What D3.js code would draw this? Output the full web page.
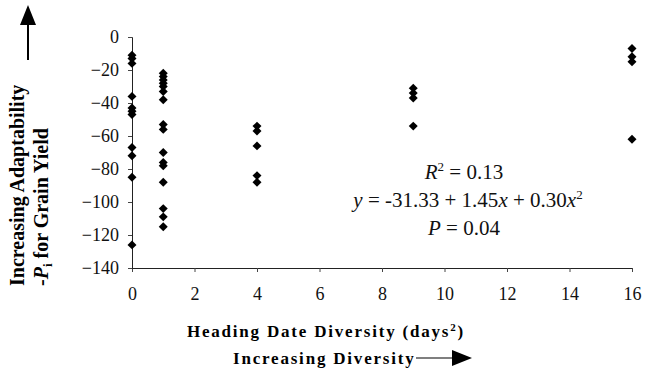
<!DOCTYPE html>
<html>
<head>
<meta charset="utf-8">
<script src="https://cdn.jsdelivr.net/npm/d3@7"></script>
<style>
  body { margin: 0; background: #fff; }
  svg text { font-family: "Liberation Serif", "Times New Roman", serif; }
</style>
</head>
<body>
<script>
// heading date diversity (days^2) and adaptability values
var diversity = [0, 1, 4, 9, 16];
var pi0 = [-11, -13, -16, -36, -43, -45, -47, -67, -72, -85, -126];
var pi1 = [-22, -24, -26, -28, -30, -33, -38, -53, -56, -70, -76, -78, -88, -104, -109, -115];
var pi4 = [-54, -57, -66, -84, -88];
var pi9 = [-31, -34, -37, -54];
var pi16 = [-7, -12, -15, -62];
var xTicks = [0, 2, 4, 6, 8, 10, 12, 14, 16];
var yTicks = [0, -20, -40, -60, -80, -100, -120, -140];

var groups = [pi0, pi1, pi4, pi9, pi16];
var points = [];
groups.forEach(function (g, i) {
  g.forEach(function (v) { points.push({ x: diversity[i], y: v }); });
});

var width = 645, height = 369;
var svg = d3.select("body").append("svg")
  .attr("width", width)
  .attr("height", height);

var x = d3.scaleLinear().domain([0, 16]).range([132, 632]);
var y = d3.scaleLinear().domain([-140, 0]).range([268, 37]);

// axes
var xAxis = svg.append("g")
  .attr("transform", "translate(0," + y(-140) + ")")
  .call(d3.axisBottom(x).tickValues(xTicks).tickSize(4).tickPadding(15));
var yAxis = svg.append("g")
  .attr("transform", "translate(" + x(0) + ",0)")
  .call(d3.axisLeft(y).tickValues(yTicks).tickSize(4).tickPadding(9));

[xAxis, yAxis].forEach(function (a) {
  a.attr("font-family", null);
  a.select(".domain").attr("stroke", "#222");
  a.selectAll(".tick line").attr("stroke", "#444");
  a.selectAll("text")
    .attr("fill", "#111")
    .style("font-size", "18px");
});

// markers
svg.append("g").selectAll("path")
  .data(points)
  .enter().append("path")
  .attr("d", d3.symbol().type(d3.symbolSquare).size(40))
  .attr("transform", function (d) { return "translate(" + x(d.x) + "," + y(d.y) + ") rotate(45)"; })
  .attr("fill", "#000");

// equation block
var eq = svg.append("text")
  .attr("text-anchor", "middle")
  .style("font-size", "21px")
  .attr("fill", "#111");
var l1 = eq.append("tspan").attr("x", 464).attr("y", 179);
l1.append("tspan").style("font-style", "italic").text("R");
l1.append("tspan").attr("dy", -8).style("font-size", "13px").text("2");
l1.append("tspan").attr("dy", 8).text(" = 0.13");

var l2 = eq.append("tspan").attr("x", 468).attr("y", 207);
l2.append("tspan").style("font-style", "italic").text("y");
l2.append("tspan").text(" = -31.33 + 1.45");
l2.append("tspan").style("font-style", "italic").text("x");
l2.append("tspan").text(" + 0.30");
l2.append("tspan").style("font-style", "italic").text("x");
l2.append("tspan").attr("dy", -8).style("font-size", "13px").text("2");

var l3 = eq.append("tspan").attr("x", 464).attr("y", 235);
l3.append("tspan").style("font-style", "italic").text("P");
l3.append("tspan").text("  = 0.04");

// y axis title, both lines start at the same bottom edge
var yt = svg.append("g").attr("transform", "translate(0,286) rotate(-90)");
yt.append("text")
  .attr("x", 0).attr("y", 24)
  .style("font-weight", "bold").style("font-size", "20px")
  .text("Increasing Adaptability");
var yt2 = yt.append("text")
  .attr("x", 0).attr("y", 48)
  .style("font-weight", "bold").style("font-size", "20px");
yt2.append("tspan").text("-");
yt2.append("tspan").style("font-style", "italic").text("P");
yt2.append("tspan").attr("dy", 4).style("font-size", "13px").text("i");
yt2.append("tspan").attr("dy", -4).text(" for Grain Yield");

// up arrow
svg.append("line")
  .attr("x1", 28).attr("x2", 28).attr("y1", 60).attr("y2", 22)
  .attr("stroke", "#000").attr("stroke-width", 2);
svg.append("path")
  .attr("d", "M20,25 L28,5 L36,25 Z")
  .attr("fill", "#000");

// x axis title
var xt = svg.append("text")
  .attr("x", 326).attr("y", 337)
  .attr("text-anchor", "middle")
  .style("font-weight", "bold").style("font-size", "17px")
  .style("letter-spacing", "1.8px");
xt.append("tspan").text("Heading Date Diversity (days");
xt.append("tspan").attr("dy", -6).style("font-size", "11px").text("2");
xt.append("tspan").attr("dy", 6).text(")");

svg.append("text")
  .attr("x", 233).attr("y", 364)
  .style("font-weight", "bold").style("font-size", "17px")
  .style("letter-spacing", "1.8px")
  .text("Increasing Diversity");

// right arrow
svg.append("line")
  .attr("x1", 416).attr("x2", 455).attr("y1", 358).attr("y2", 358)
  .attr("stroke", "#000").attr("stroke-width", 1.2);
svg.append("path")
  .attr("d", "M452,350 L472,358 L452,366 Z")
  .attr("fill", "#000");
</script>
</body>
</html>
